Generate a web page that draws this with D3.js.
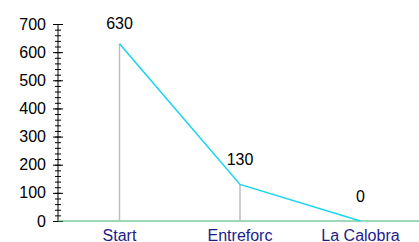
<!DOCTYPE html>
<html><head><meta charset="utf-8">
<script src="https://cdn.jsdelivr.net/npm/d3@7"></script>
<style>body{margin:0;background:#fff;}svg{display:block;}</style>
</head><body>
<svg id="c" width="419" height="242"></svg>
<script>
const categories = ["Start", "Entreforc", "La Calobra"];
const values = [630, 130, 0];
const yTicks = [0, 100, 200, 300, 400, 500, 600, 700];
const yMinorTicks = d3.range(0, 701, 20);

const svg = d3.select("#c");
const font = "'Liberation Sans', Arial, sans-serif";
const x = d3.scalePoint().domain(categories).range([119.5, 360.5]);
const y = d3.scaleLinear().domain([0, 700]).range([221, 24]);
const axisX = 58;

// minor ticks axis
const minor = svg.append("g").attr("transform", `translate(${axisX},0)`)
  .call(d3.axisLeft(y).tickValues(yMinorTicks).tickSize(3).tickFormat(""));
minor.selectAll(".tick line").attr("stroke", "#000").attr("x2", 3).attr("x1", -3);
minor.select(".domain").remove();

const major = svg.append("g").attr("transform", `translate(${axisX},0)`)
  .call(d3.axisLeft(y).tickValues(yTicks).tickSize(5).tickPadding(7));
major.selectAll(".tick line").attr("stroke", "#000").attr("x1", 5);
major.select(".domain").attr("d", `M0,${y(700)}V${y(0)}`).attr("stroke", "#000");
major.selectAll(".tick text").attr("font-family", font).attr("font-size", 16).attr("fill", "#000");

// baseline
svg.append("line").attr("x1", axisX).attr("x2", 419)
  .attr("y1", y(0)).attr("y2", y(0)).attr("stroke", "#3cb371").attr("stroke-width", 1.2);

// drop lines
svg.selectAll(".drop").data(categories.map((c, i) => ({c, v: values[i]})).filter(d => d.v > 0))
  .enter().append("line")
  .attr("x1", d => x(d.c)).attr("x2", d => x(d.c))
  .attr("y1", d => y(d.v)).attr("y2", y(0))
  .attr("stroke", "#bdbdbd").attr("stroke-width", 1.5);

// line
const line = d3.line().x((d, i) => x(categories[i])).y(d => y(d));
svg.append("path").datum(values).attr("d", line)
  .attr("fill", "none").attr("stroke", "#1ad6ee").attr("stroke-width", 1.6);

// value labels
svg.selectAll(".lbl").data(values).enter().append("text")
  .attr("x", (d, i) => x(categories[i]))
  .attr("y", d => Math.max(y(d) - 19, 29))
  .attr("text-anchor", "middle").attr("font-family", font).attr("font-size", 16)
  .attr("fill", "#000").text(d => d);

// x labels
svg.selectAll(".xl").data(categories).enter().append("text")
  .attr("x", d => x(d)).attr("y", 240.5)
  .attr("text-anchor", "middle").attr("font-family", font).attr("font-size", 16)
  .attr("fill", "#1c1c8c").text(d => d);
</script>
</body></html>
